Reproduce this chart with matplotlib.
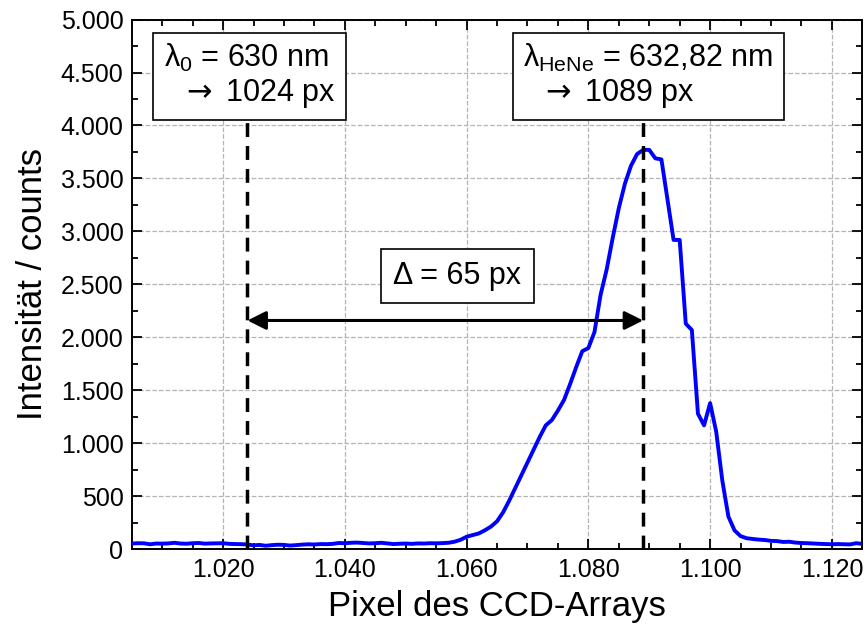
import matplotlib
matplotlib.use("Agg")
import matplotlib.pyplot as plt
from matplotlib.ticker import FuncFormatter, MultipleLocator

# Spektrum des CCD-Arrays (Pixel 1005 ... 1125)
pixel = list(range(1005, 1126))
counts = [
    55, 58, 57, 48, 55, 54, 56, 62, 55, 53,      # 1005-1014
    58, 60, 54, 56, 57, 58, 52, 50, 49, 46,      # 1015-1024
    38, 42, 34, 40, 44, 42, 36, 40, 45, 48,      # 1025-1034
    46, 50, 49, 52, 60, 58, 62, 64, 60, 56,      # 1035-1044
    58, 62, 56, 50, 53, 55, 52, 56, 55, 58,      # 1045-1054
    57, 59, 62, 72, 90, 119, 135, 150, 180, 215, # 1055-1064
    265, 350, 460, 580, 700, 820, 940, 1060, 1170, 1220,     # 1065-1074
    1310, 1410, 1560, 1720, 1870, 1900, 2050, 2400, 2640, 2940,  # 1075-1084
    3220, 3450, 3620, 3730, 3770, 3770, 3690, 3680, 3300, 2920,  # 1085-1094
    2920, 2130, 2070, 1280, 1170, 1380, 1110, 650, 310, 180,     # 1095-1104
    125, 105, 98, 92, 88, 80, 78, 70, 72, 64,    # 1105-1114
    60, 58, 55, 52, 50, 48, 50, 48, 47, 58,      # 1115-1124
    52,                                          # 1125
]

px_0 = 1024
px_hene = 1089

plt.rcParams['font.family'] = ['Liberation Sans', 'DejaVu Sans']
plt.rcParams['mathtext.fontset'] = 'custom'
plt.rcParams['mathtext.rm'] = 'Liberation Sans'
plt.rcParams['mathtext.it'] = 'Liberation Sans:italic'
plt.rcParams['mathtext.sf'] = 'DejaVu Sans'  # breiterer Pfeil

fig = plt.figure(figsize=(8.67, 6.3), dpi=100)
ax = fig.add_axes([0.152, 0.128, 0.8426, 0.841])

ax.plot(pixel, counts, color='#0000ff', lw=2.8, zorder=3)

# Markierungen der Pixelpositionen
for p in (px_0, px_hene):
    ax.plot([p, p], [0, 4200], color='black', lw=2.5,
            dashes=(4.0, 2.6), zorder=4)

ax.annotate('', xy=(px_hene, 2160), xytext=(px_0, 2160),
            arrowprops=dict(arrowstyle='<|-|>', color='black', lw=2.2,
                            mutation_scale=28, shrinkA=0, shrinkB=0),
            zorder=5)

arrow = r'$\mathsf{\rightarrow}$'
box = dict(boxstyle='square,pad=0.35', facecolor='white', edgecolor='black', lw=1.2)
ax.text(1010.3, 4790, 'λ$_0$ = 630 nm\n  ' + arrow + ' 1024 px', fontsize=22,
        ha='left', va='top', bbox=box, zorder=6, linespacing=1.12)
ax.text(1069.3, 4790, 'λ$_{\\mathrm{HeNe}}$ = 632,82 nm\n  ' + arrow + ' 1089 px',
        fontsize=22, ha='left', va='top', bbox=box, zorder=6, linespacing=1.12)
ax.text(1058.5, 2580, 'Δ = 65 px', fontsize=22, ha='center', va='center',
        bbox=dict(boxstyle='square,pad=0.4', facecolor='white',
                  edgecolor='black', lw=1.2), zorder=6)

ax.set_xlim(1005, 1125)
ax.set_ylim(0, 5000)
ax.xaxis.set_major_locator(MultipleLocator(20))
ax.xaxis.set_minor_locator(MultipleLocator(5))
ax.yaxis.set_major_locator(MultipleLocator(500))
ax.yaxis.set_minor_locator(MultipleLocator(250))

# deutsche Tausendertrennung
fmt = FuncFormatter(lambda v, pos: f"{v:,.0f}".replace(',', '.'))
ax.xaxis.set_major_formatter(fmt)
ax.yaxis.set_major_formatter(fmt)

ax.tick_params(which='both', direction='in', top=True, right=True, width=1.3)
ax.tick_params(which='major', length=7, labelsize=18, pad=6)
ax.tick_params(which='minor', length=4.5)
for s in ax.spines.values():
    s.set_linewidth(1.4)

ax.grid(True, which='major', color='#b4b4b4', linestyle='--', lw=0.9, zorder=0)
ax.set_axisbelow(True)

ax.set_xlabel('Pixel des CCD-Arrays', fontsize=25, labelpad=6)
ax.set_ylabel('Intensität / counts', fontsize=25, labelpad=8)

fig.savefig('out.png', dpi=100)
